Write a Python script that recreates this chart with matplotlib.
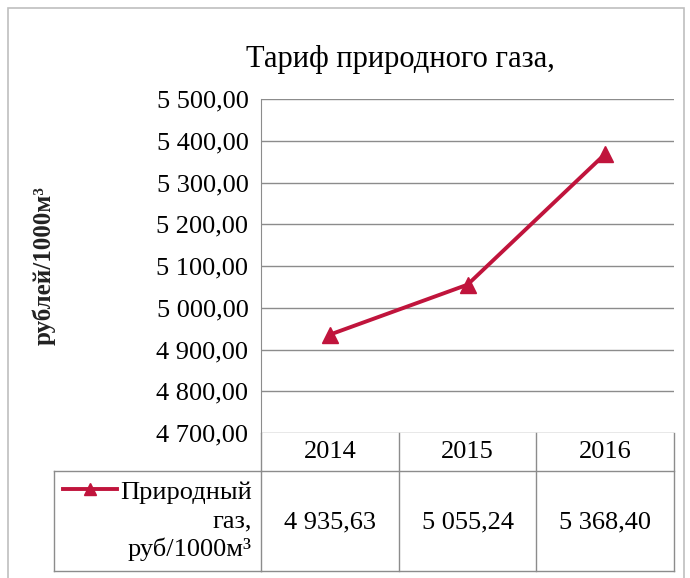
import matplotlib
matplotlib.use("Agg")
import matplotlib.pyplot as plt
import matplotlib.transforms as mtransforms
from matplotlib.lines import Line2D
from matplotlib.patches import Rectangle

plt.rcParams['font.family'] = ['Liberation Serif', 'DejaVu Serif']

# data
years = ["2014", "2015", "2016"]
tariff = [4935.63, 5055.24, 5368.40]
tariff_labels = ["4 935,63", "5 055,24", "5 368,40"]
y_ticks = [4700, 4800, 4900, 5000, 5100, 5200, 5300, 5400, 5500]
y_tick_labels = ["4 700,00", "4 800,00", "4 900,00", "5 000,00", "5 100,00",
                 "5 200,00", "5 300,00", "5 400,00", "5 500,00"]
series_lines = ["Природный", "газ,", "руб/1000м³"]

W, H = 690, 578
line_color = "#C0143C"
grid_color = "#8C8C8C"
fs = 19

fig = plt.figure(figsize=(W / 100, H / 100), dpi=100)


def fx(p):
    # pixel x -> axes fraction x
    return ax.transAxes.inverted().transform(fig.transFigure.transform((p / W, 0)))[0]


# outer chart frame
fig.add_artist(Rectangle((8 / W, -0.01), (684 - 8) / W, (H - 8) / H + 0.01,
                         transform=fig.transFigure, fill=False,
                         edgecolor="#BFBFBF", lw=1.2))

# plot area in pixel terms
left, right, top, bottom = 261, 674, 99, 433
ax = fig.add_axes([left / W, (H - bottom) / H, (right - left) / W, (bottom - top) / H])

x = list(range(len(years)))
ax.plot(x, tariff, color=line_color, lw=2.8, marker="^", ms=11, clip_on=False, zorder=3)

ax.set_xlim(-0.5, len(years) - 0.5)
ax.set_ylim(y_ticks[0], y_ticks[-1])
ax.set_yticks(y_ticks)
ax.set_yticklabels(y_tick_labels, fontsize=fs)
ax.set_xticks([])
ax.tick_params(axis="y", length=0, pad=9)
ax.yaxis.grid(True, color=grid_color, lw=1)
ax.set_axisbelow(True)
for s in ["top", "right", "bottom"]:
    ax.spines[s].set_visible(False)
ax.spines["left"].set_color(grid_color)

ax.set_ylabel("рублей/1000м³", fontsize=18, fontweight="bold", color="#222222")
ax.yaxis.set_label_coords(fx(56), 0.5)

fig.text(400 / W, 1 - 60 / H, "Тариф природного газа,", fontsize=22,
         ha="center", va="center")

# data table below the plot
trans = mtransforms.blended_transform_factory(ax.transData, ax.transAxes)
px = 1 / (bottom - top)
row1 = -(471 - bottom) * px
row2 = -(571 - bottom) * px
tbl_left = fx(54)

lk = dict(color=grid_color, lw=1, clip_on=False)
n = len(years)
for i in range(n + 1):
    ax.add_line(Line2D([i - 0.5, i - 0.5], [0, row2], transform=trans, **lk))
ax.add_line(Line2D([-0.5, n - 0.5], [row1, row1], transform=trans, **lk))
ax.add_line(Line2D([-0.5, n - 0.5], [row2, row2], transform=trans, **lk))
ax.add_line(Line2D([tbl_left, 0], [row1, row1], transform=ax.transAxes, **lk))
ax.add_line(Line2D([tbl_left, 0], [row2, row2], transform=ax.transAxes, **lk))
ax.add_line(Line2D([tbl_left, tbl_left], [row1, row2], transform=ax.transAxes, **lk))

for i, (yr, lab) in enumerate(zip(years, tariff_labels)):
    ax.text(i, -(452 - bottom) * px, yr, transform=trans, ha="center", va="center", fontsize=fs)
    ax.text(i, -(522 - bottom) * px, lab, transform=trans, ha="center", va="center", fontsize=fs)

# series name with legend key
for txt, yp in zip(series_lines, [493, 521, 549]):
    ax.text(fx(252), -(yp - bottom) * px, txt, transform=ax.transAxes,
            ha="right", va="center", fontsize=fs)
key_y = -(489 - bottom) * px
ax.add_line(Line2D([fx(63), fx(117)], [key_y, key_y], transform=ax.transAxes,
                   color=line_color, lw=2.8, clip_on=False))
ax.add_line(Line2D([fx(90)], [key_y], transform=ax.transAxes, color=line_color,
                   marker="^", ms=9, clip_on=False))

fig.savefig("out.png", dpi=100)
